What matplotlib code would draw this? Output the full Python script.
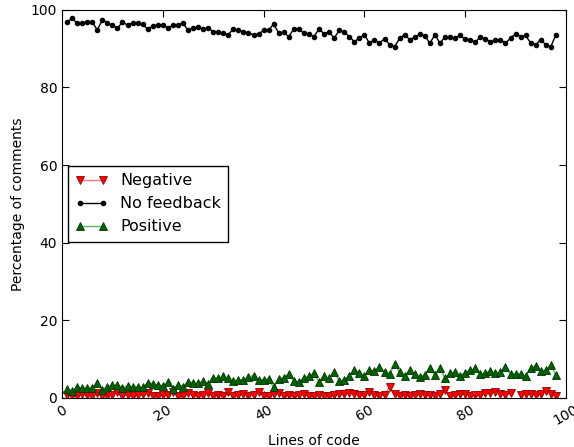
import numpy as np
import matplotlib.pyplot as plt

#----------------------------------------------------- DATA
lines = list(range(1, 99))

no_feedback = [96.8, 97.8, 96.6, 96.6, 96.8, 96.9, 94.8, 97.4, 96.6, 96.0,
               95.3, 96.8, 96.1, 96.6, 96.6, 96.3, 95.0, 95.8, 96.1, 96.1,
               95.3, 96.0, 96.1, 96.6, 94.7, 95.3, 95.6, 95.0, 95.3, 94.4,
               94.2, 94.0, 93.6, 95.1, 94.7, 94.4, 94.0, 93.6, 93.8, 94.7,
               94.7, 96.4, 94.0, 94.2, 93.1, 95.1, 95.0, 94.0, 93.8, 93.1,
               95.1, 93.8, 94.4, 92.7, 94.7, 94.3, 93.1, 91.8, 92.7, 93.6,
               91.4, 92.3, 91.4, 92.6, 91.0, 90.5, 92.7, 93.6, 92.3, 93.0,
               93.7, 93.3, 91.4, 93.6, 91.4, 93.0, 93.1, 92.7, 93.4, 92.4,
               92.3, 91.6, 93.1, 92.4, 91.8, 92.1, 92.3, 91.4, 92.7, 93.8,
               93.1, 93.4, 91.4, 91.0, 92.3, 91.0, 90.5, 93.6]

negative = [0.8, 0.5, 0.6, 0.9, 0.7, 0.5, 1.3, 0.5, 0.6, 0.7,
            1.5, 0.6, 0.8, 0.5, 0.7, 0.9, 1.2, 0.6, 0.5, 0.8,
            0.7, 1.6, 0.6, 0.5, 1.2, 0.8, 0.6, 0.7, 1.2, 0.6,
            0.7, 0.5, 1.4, 0.6, 0.7, 0.9, 0.6, 0.7, 1.6, 0.6,
            0.5, 0.9, 1.2, 0.6, 0.7, 0.5, 0.8, 0.9, 0.6, 0.5,
            0.8, 0.6, 0.5, 0.7, 0.9, 1.1, 1.2, 1.0, 0.8, 0.7,
            1.4, 0.8, 0.6, 0.7, 2.8, 0.9, 0.6, 0.8, 0.5, 0.8,
            1.0, 0.7, 0.8, 0.6, 0.9, 2.0, 0.6, 0.7, 1.0, 1.1,
            0.6, 0.8, 0.7, 1.2, 1.3, 1.5, 1.1, 0.7, 1.2, np.nan,
            0.8, 1.0, 0.9, 0.7, 0.9, 1.8, 1.1, 0.6]

positive = [2.4, 1.7, 2.8, 2.5, 2.5, 2.6, 3.9, 2.1, 2.8, 3.3,
            3.2, 2.6, 3.1, 2.9, 2.7, 2.8, 3.8, 3.6, 3.4, 3.1,
            4.0, 2.4, 3.3, 2.9, 4.1, 3.9, 3.8, 4.3, 3.5, 5.0,
            5.1, 5.5, 5.0, 4.3, 4.6, 4.7, 5.4, 5.7, 4.6, 4.7,
            4.8, 2.7, 4.8, 5.2, 6.2, 4.4, 4.2, 5.1, 5.6, 6.4,
            4.1, 5.6, 5.1, 6.6, 4.4, 4.6, 5.7, 7.2, 6.5, 5.7,
            7.2, 6.9, 8.0, 6.7, 6.2, 8.6, 6.7, 5.6, 7.2, 6.2,
            5.3, 6.0, 7.8, 5.8, 7.7, 5.0, 6.3, 6.6, 5.6, 6.5,
            7.1, 7.6, 6.2, 6.4, 6.9, 6.4, 6.6, 7.9, 6.1, 6.2,
            6.1, 5.6, 7.7, 8.3, 6.8, 7.2, 8.4, 5.8]

ticks = [0, 20, 40, 60, 80, 100]

#----------------------------------------------------- PLOT
fig = plt.figure(figsize=(5.74, 4.47), dpi=100)
ax = fig.add_axes([0.108, 0.110, 0.878, 0.868])

ax.plot(lines, negative, color='#f07878', linewidth=1.0, marker='v',
        markersize=5.5, markerfacecolor='red', markeredgecolor='#8b0000',
        markeredgewidth=0.6, label='Negative')
ax.plot(lines, no_feedback, color='black', linewidth=1.0, marker='o',
        markersize=3, label='No feedback')
ax.plot(lines, positive, color='#5cb85c', linewidth=1.0, marker='^',
        markersize=5.5, markerfacecolor='#006400', markeredgecolor='#003300',
        markeredgewidth=0.6, label='Positive')

ax.set_xlim(0, 100)
ax.set_ylim(0, 100)
ax.set_xticks(ticks)
ax.set_yticks(ticks)
ax.tick_params(direction='in', top=True, right=True, length=5, labelsize=10)
plt.setp(ax.get_xticklabels(), rotation=30)
ax.set_xlabel('Lines of code', fontsize=10)
ax.set_ylabel('Percentage of comments', fontsize=10)

leg = ax.legend(loc='center left', bbox_to_anchor=(0.0, 0.5), numpoints=2,
                fontsize=11.5, fancybox=False, framealpha=1.0,
                borderaxespad=0.4, borderpad=0.45, labelspacing=0.5)
leg.get_frame().set_edgecolor('black')

fig.savefig('out.png', dpi=100)
